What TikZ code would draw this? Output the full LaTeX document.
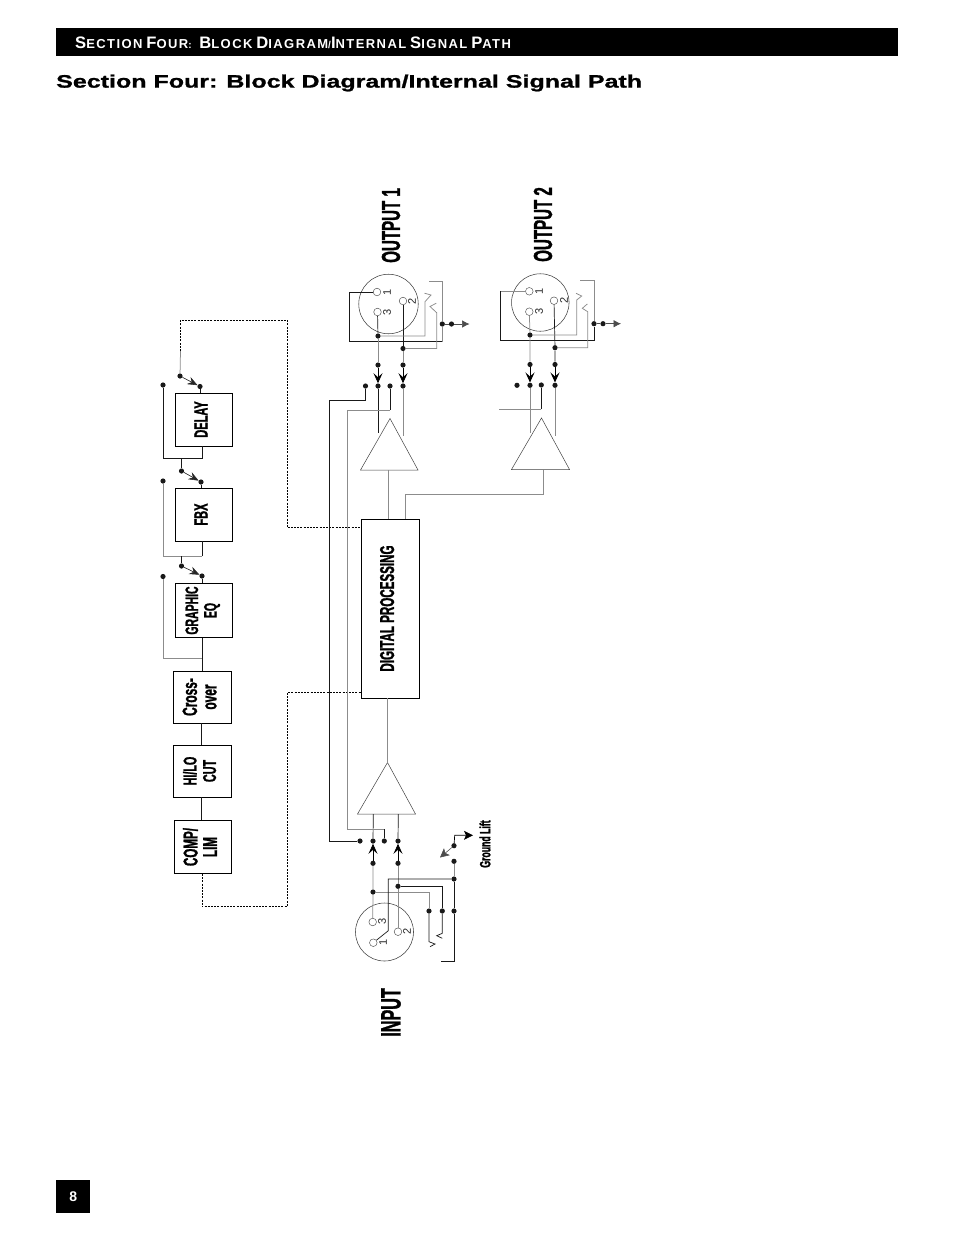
\documentclass[tikz,border=0pt]{standalone}
\usepackage{fontspec}
\usetikzlibrary{arrows.meta,calc}
\setmainfont{Liberation Sans}
\newfontfamily\narrowb[FakeStretch=0.58,FakeBold=1.2]{Liberation Sans Bold}
\newfontfamily\wideb[FakeStretch=1.39,FakeBold=1.2]{Liberation Sans Bold}
\newfontfamily\headb[LetterSpace=11]{Liberation Sans Bold}
\newfontfamily\plainb{Liberation Sans Bold}
\definecolor{wg}{gray}{0.55}
\tikzset{
  x=1pt,y=-1pt,
  wire/.style={draw=black!90,line width=0.7pt},
  gwire/.style={draw=wg,line width=0.75pt},
  dashwire/.style={draw=black,line width=0.7pt,densely dashed,dash pattern=on 2pt off 1.2pt},
  thin wire/.style={draw=black!75,line width=0.5pt},
  dotn/.style={circle,fill=black!90,draw=none,minimum size=5.2pt,inner sep=0pt},
  fx/.style={draw=black,line width=0.8pt,fill=white,inner sep=0pt,rotate=90,align=center,minimum height=57pt,text depth=6pt,font=\narrowb\fontsize{19}{19.5}\selectfont},
  pin/.style={circle,draw=black!70,line width=0.45pt,minimum size=7.6pt,inner sep=0pt},
  xlr/.style={circle,draw=black!75,line width=0.55pt,inner sep=0pt},
  digit/.style={rotate=90,inner sep=0pt,font=\fontsize{11}{11}\selectfont,text=black!85},
  biglabel/.style={rotate=90,inner sep=0pt,font=\narrowb\fontsize{26}{26}\selectfont},
  swarrow/.style={-{Stealth[length=10pt,width=8pt,inset=3.5pt]},line width=0.55pt,draw=black!85,fill=black},
  yarrow/.style={-{Stealth[length=10pt,width=9pt,inset=4pt]},line width=0.7pt},
  outarrow/.style={-{Latex[length=7.5pt,width=7.5pt]},line width=0.6pt,draw=black!70},
}
\newcommand{\Dot}[3]{\node[dotn] (#1) at (#2,#3) {};}
\newcommand{\Pt}[3]{\coordinate (#1) at (#2,#3);}
\newcommand{\smc}[2]{{\fontsize{16.6}{16}\selectfont #1}{\fontsize{13}{16}\selectfont #2}}
\begin{document}
\begin{tikzpicture}
\useasboundingbox (0,0) rectangle (954,1235);
% header
\node[fill=black,minimum width=842pt,minimum height=28pt,inner sep=0pt,anchor=north west] (bar) at (56,28) {};
\node[anchor=west,text=white,inner sep=0pt,font=\headb] (hdr) at (75,42.5) {\smc{S}{ECTION} \smc{F}{OUR}:\ \ \smc{B}{LOCK} \smc{D}{IAGRAM}/\smc{I}{NTERNAL} \smc{S}{IGNAL} \smc{P}{ATH}};
\node[anchor=west,inner sep=0pt,font=\wideb\fontsize{18}{18}\selectfont] (title) at (56,83) {Section Four:\ \hspace{2pt}Block Diagram/Internal Signal Path};
\node[fill=black,minimum width=34pt,minimum height=33pt,inner sep=0pt,anchor=north west,text=white,font=\plainb\fontsize{14}{14}\selectfont] (page) at (56,1179.5) {8};
% big labels
\node[biglabel,anchor=east] (out1lab) at (391,188) {OUTPUT 1};
\node[biglabel,anchor=east] (out2lab) at (543,187) {OUTPUT 2};
\node[biglabel,anchor=west,font=\narrowb\fontsize{28}{28}\selectfont] (inlab) at (391,1037) {INPUT};
\node[rotate=90,inner sep=0pt,font=\narrowb\fontsize{15}{15}\selectfont] (gl) at (485,844) {Ground Lift};
% effect boxes
\node[fx,minimum width=53pt] (delay) at (204,419.5) {DELAY};
\node[fx,minimum width=53pt] (fbx) at (204,514.5) {FBX};
\node[fx,minimum width=54pt,font=\narrowb\fontsize{18}{18.5}\selectfont] (geq) at (204,610.5) {GRAPHIC\\EQ};
\node[fx,minimum width=52pt,minimum height=58pt,font=\narrowb\fontsize{20.5}{19.5}\selectfont] (xo) at (202.5,697) {Cross-\\over};
\node[fx,minimum width=52pt,minimum height=58pt,font=\narrowb\fontsize{18.5}{19.5}\selectfont] (hilo) at (202.5,771) {HI/LO\\CUT};
\node[fx,minimum width=53pt,font=\narrowb\fontsize{20}{19.5}\selectfont] (comp) at (203,847) {COMP/\\LIM};
\node[fx,minimum width=179pt,minimum height=58pt,text depth=6pt,font=\narrowb\fontsize{20}{20}\selectfont] (dsp) at (390,608.5) {DIGITAL PROCESSING};
% effect-chain switches
\Dot{dA}{180}{376}\Dot{dB}{200}{386.5}\Dot{dC}{163}{385}
\Dot{fA}{181.5}{471}\Dot{fB}{201}{482}\Dot{fC}{163}{481}
\Dot{gA}{181.5}{566}\Dot{gB}{202}{576}\Dot{gC}{163}{576.5}
\draw[swarrow] (dA) -- (dB);
\draw[swarrow] (fA) -- (fB);
\draw[swarrow] (gA) -- (gB);
\draw[wire] (dB) -- (dB |- delay.east);
\draw[wire] (fB) -- (fB |- fbx.east);
\draw[wire] (gB) -- (gB |- geq.east);
\Pt{dJ}{202}{458}\Pt{fJ}{202}{556}\Pt{gJ}{202}{658}
\draw[wire] (dC) |- (dJ) -- (dJ |- delay.west);
\draw[wire] (fA) -- (fA |- dJ);
\draw[gwire] (fC) |- (fJ);
\draw[wire] (fJ) -- (fJ |- fbx.west);
\draw[wire] (gA) -- (gA |- fJ);
\draw[gwire] (gC) |- (gJ);
\draw[wire] (gJ |- geq.west) -- (gJ |- xo.east);
\Pt{xJ}{201}{730}
\draw[wire] (xJ |- xo.west) -- (xJ |- hilo.east);
\draw[wire] (xJ |- hilo.west) -- (xJ |- comp.east);
% dashed returns
\Pt{dTop}{180.5}{320}\Pt{dGr}{180.5}{351}\Pt{dR}{287}{320}\Pt{dIn}{287}{527.5}
\draw[gwire] (dA) -- (dGr);
\draw[dashwire] (dGr) -- (dTop) -- (dR) -- (dIn) -- (dIn -| dsp.north);
\Pt{cBot}{202}{906.5}\Pt{cR}{287}{906.5}\Pt{cUp}{287}{692.5}
\draw[dashwire] (cBot |- comp.west) -- (cBot) -- (cR) -- (cUp) -- (cUp -| dsp.north);
% triangle amps
\Pt{t1a}{390}{418.5}\Pt{t1l}{360.5}{470}\Pt{t1r}{418}{470}
\Pt{t2a}{541.5}{418}\Pt{t2l}{511.5}{469.5}\Pt{t2r}{569.5}{469.5}
\Pt{t3a}{387.5}{762.5}\Pt{t3l}{357.5}{814}\Pt{t3r}{415.5}{814}
\draw[thin wire] (t1a) -- (t1l) -- (t1r) -- cycle;
\draw[thin wire] (t2a) -- (t2l) -- (t2r) -- cycle;
\draw[thin wire] (t3a) -- (t3l) -- (t3r) -- cycle;
\Pt{b1}{388.5}{470}\Pt{b2}{543}{469.5}\Pt{b2j}{405}{494}
\draw[gwire] (b1) -- (b1 |- dsp.east);
\draw[gwire] (b2) |- (b2j) -- (b2j |- dsp.east);
\draw[gwire] (t3a) -- (t3a |- dsp.west);
% OUTPUT 1 connector
\node[xlr,minimum size=59.5pt] (x1) at (388.5,304) {};
\node[pin] (p11) at (377,292) {};\node[pin] (p12) at (403,301) {};\node[pin] (p13) at (377.5,312) {};
\node[digit] (l11) at (387,292) {1};\node[digit] (l12) at (412,301) {2};\node[digit] (l13) at (387,312) {3};
\Dot{o1a}{378}{336}\Dot{o1b}{378}{365}\Dot{o1c}{378}{386}
\Dot{o1d}{403}{348.5}\Dot{o1e}{403}{365}\Dot{o1f}{403}{386}
\Dot{o1g}{365.5}{386}\Dot{o1h}{390}{386}
\Dot{o1i}{442.3}{324}\Dot{o1j}{451.5}{324}
\Pt{o1t}{469.5}{324}
\Pt{w1a}{349}{292}\Pt{w1b}{349}{341.5}\Pt{w1c}{442.3}{341.5}\Pt{w1d}{442.3}{281}\Pt{w1e}{429}{281}
\draw[wire] (p11) -- (w1a) -- (w1b) -- (w1c);
\draw[gwire] (w1c) -- (o1i) -- (w1d) -- (w1e);
\draw[outarrow] (o1i) -- (o1j) -- (o1t);
\draw[wire] (p13) -- (o1a);
\draw[gwire] (o1a) -- (o1b);
\draw[wire] (p12) -- (o1d);
\draw[gwire] (o1d) -- (o1e);
\draw[yarrow] (o1b) -- (o1c);
\draw[yarrow] (o1e) -- (o1f);
\Pt{c1a}{425}{301.7}\Pt{c1b}{431}{295}\Pt{c1c}{424.5}{293.2}
\Pt{c1d}{436.7}{312.7}\Pt{c1e}{430}{306.5}\Pt{c1f}{436.3}{303.2}
\draw[gwire] (o1a) -| (c1a) -- (c1b) -- (c1c);
\draw[gwire] (o1d) -| (c1d) -- (c1e) -- (c1f);
\Pt{t1x}{378}{433}\Pt{t1y}{403}{436}
\draw[wire] (o1c) -- (t1x);
\draw[gwire] (o1f) -- (t1y);
% OUTPUT 2 connector
\node[xlr,minimum size=57.5pt] (x2) at (540.3,302.5) {};
\node[pin] (p21) at (529.3,291.3) {};\node[pin] (p22) at (554,300.7) {};\node[pin] (p23) at (529.3,311.7) {};
\node[digit] (l21) at (539,291.3) {1};\node[digit] (l22) at (564,300.7) {2};\node[digit] (l23) at (539,311.7) {3};
\Dot{o2a}{530}{335}\Dot{o2b}{530}{364.5}\Dot{o2c}{530}{385.3}
\Dot{o2d}{555}{347.7}\Dot{o2e}{555}{364.5}\Dot{o2f}{555}{385.3}
\Dot{o2g}{517}{385.3}\Dot{o2h}{541.3}{385}
\Dot{o2i}{594}{323.7}\Dot{o2j}{603}{323.7}
\Pt{o2t}{621}{323.7}
\Pt{w2a}{500.7}{291.3}\Pt{w2b}{500.7}{340}\Pt{w2c}{594}{340}\Pt{w2d}{594}{280}\Pt{w2e}{580}{280}
\draw[gwire] (p21) -- (w2a);
\draw[wire] (w2a) -- (w2b) -- (w2c) -- (o2i);
\draw[gwire] (o2i) -- (w2d) -- (w2e);
\draw[outarrow] (o2i) -- (o2j) -- (o2t);
\draw[gwire] (p23) -- (o2a) -- (o2b);
\draw[wire] (p22) -- (o2d) -- (o2e);
\draw[yarrow] (o2b) -- (o2c);
\draw[yarrow] (o2e) -- (o2f);
\Pt{c2a}{576.7}{300}\Pt{c2b}{581.7}{296}\Pt{c2c}{576}{293.3}
\Pt{c2d}{587.7}{311.7}\Pt{c2e}{582.3}{308.3}\Pt{c2f}{587.3}{304}
\draw[gwire] (o2a) -| (c2a) -- (c2b) -- (c2c);
\draw[gwire] (o2d) -| (c2d) -- (c2e) -- (c2f);
\Pt{t2x}{530}{433}\Pt{t2y}{555}{436}
\draw[gwire] (o2c) -- (t2x);
\draw[gwire] (o2f) -- (t2y);
\Pt{o2k}{499}{409.3}
\draw[wire] (o2h) -- (o2h |- o2k);
\draw[gwire] (o2h |- o2k) -- (o2k);
% INPUT connector
\node[xlr,minimum size=58pt] (xi) at (384.5,932) {};
\node[pin] (pi3) at (372.7,922) {};\node[pin] (pi2) at (398,931.7) {};\node[pin] (pi1) at (373.3,942.7) {};
\node[digit] (li3) at (382,921) {3};\node[digit] (li2) at (407,931) {2};\node[digit] (li1) at (383,942.7) {1};
\Dot{i3a}{373}{841}\Dot{i2a}{398}{841}\Dot{i3b}{373}{863.3}\Dot{i2b}{398}{863.3}
\Dot{i3c}{373}{892}\Dot{i2c}{398}{886.3}
\Dot{iL}{360}{841}\Dot{iM}{384.3}{841}
\draw[yarrow] (i3b) -- (i3a);
\draw[yarrow] (i2b) -- (i2a);
\Pt{bL}{373.3}{814}\Pt{bR}{398.3}{814}
\draw[wire] (bL) -- (i3a);
\draw[wire] (bR) -- (i2a);
\draw[gwire] (i3b) -- (i3c) -- (pi3);
\draw[gwire] (i2b) -- (i2c) -- (pi2);
% feeds from outputs to input stage
\Pt{fa}{329.3}{400}\Pt{fb}{329.3}{841}
\draw[wire] (o1g) |- (fa) -- (fb) -- (iL);
\Pt{ga}{347.3}{410}\Pt{gb}{347.3}{829.3}\Pt{gc}{384.3}{829.3}
\draw[wire] (o1h) -- (o1h |- ga);
\draw[gwire] (o1h |- ga) -- (ga) -- (gb) -- (gc);
\draw[wire] (gc) -- (iM);
% input contacts
\Dot{k1}{429}{911}\Dot{k2}{442.3}{911}\Dot{k3}{454}{911}
\Dot{k4}{454}{879}\Dot{k5}{454}{861.3}\Dot{k6}{454}{845.7}
\Pt{ic1}{429}{941.7}\Pt{ic2}{435}{944}\Pt{ic3}{430}{946.7}
\Pt{ic4}{442.3}{933.3}\Pt{ic5}{436.7}{935.7}\Pt{ic6}{442.3}{938.3}
\draw[gwire] (i3c) -| (k1);
\draw[wire] (k1) -- (ic1) -- (ic2) -- (ic3);
\draw[wire] (i2c) -| (k2);
\draw[wire] (k2) -- (ic4) -- (ic5) -- (ic6);
\Pt{ja}{388.3}{879}\Pt{jb}{388.3}{930.7}
\draw[wire] (k4) -- (ja) -- (jb) -- (pi1);
\Pt{ka}{454}{961.3}\Pt{kb}{440.7}{961.3}
\draw[gwire] (k5) -- (k4);
\draw[wire] (k4) -- (k3) -- (ka) -- (kb);
\Pt{la}{454.7}{835.3}\Pt{lb}{473}{835.3}\Pt{lc}{440}{857.5}
\draw[-{Stealth[length=9pt,width=9pt,inset=2pt]},line width=0.7pt] (k6) -- (la) -- (lb);
\draw[-{Stealth[length=9pt,width=9pt,inset=2pt]},line width=0.55pt,draw=black!70] (k6) -- (lc);
\end{tikzpicture}
\end{document}
